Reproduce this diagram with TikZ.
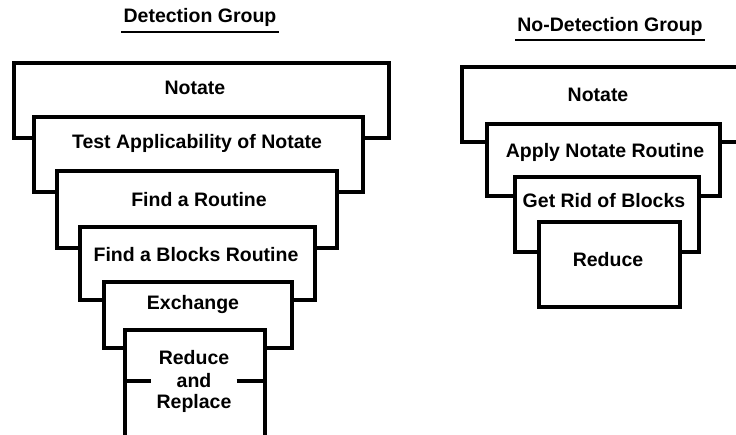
\documentclass[tikz,border=0pt]{standalone}
\usepackage{fontspec}
\setmainfont{Liberation Sans}
\usetikzlibrary{positioning}

\begin{document}
\begin{tikzpicture}[
    x=1pt, y=-1pt,
    stage/.style={rectangle, draw, line width=4pt, fill=white, anchor=north west, inner sep=0pt},
    lbl/.style={font=\fontsize{19.5}{22}\selectfont\bfseries, anchor=base, inner sep=0pt},
    underrule/.style={line width=2pt},
    stub/.style={line width=4pt}
]
    \useasboundingbox (0,0) rectangle (736,435);
    \clip (0,0) rectangle (736,435);

    % Detection group
    \node[lbl] (dtitle) at (200,23) {Detection Group};
    \draw[underrule] ([xshift=-2pt,yshift=-9pt]dtitle.base west) -- ([xshift=2pt,yshift=-9pt]dtitle.base east);

    \node[stage, minimum width=375pt, minimum height=75pt] (d1) at (12,61) {};
    \node[lbl] (dt1) at (195,95) {Notate};
    \node[stage, minimum width=329pt, minimum height=75pt] (d2) at (32,115) {};
    \node[lbl] (dt2) at (197,149) {Test Applicability of Notate};
    \node[stage, minimum width=280pt, minimum height=77pt] (d3) at (55,169) {};
    \node[lbl] (dt3) at (199,207) {Find a Routine};
    \node[stage, minimum width=235pt, minimum height=73pt] (d4) at (78,225) {};
    \node[lbl] (dt4) at (196,262) {Find a Blocks Routine};
    \node[stage, minimum width=188pt, minimum height=66pt] (d5) at (102,280) {};
    \node[lbl] (dt5) at (193,310) {Exchange};
    \node[stage, minimum width=140pt, minimum height=130pt] (d6) at (123,328) {};
    \node[lbl] (dt6) at (194,365) {Reduce};
    \node[lbl, minimum width=85pt] (dand) at (194,388) {and};
    \draw[stub] (d6.west |- dand.center) -- (dand.west);
    \draw[stub] (dand.east) -- (d6.east |- dand.center);
    \node[lbl] (dt7) at (194,408) {Replace};

    % No-detection group
    \node[lbl] (ntitle) at (610,32) {No-Detection Group};
    \draw[underrule] ([xshift=-2pt,yshift=-8pt]ntitle.base west) -- ([xshift=2pt,yshift=-8pt]ntitle.base east);

    \node[stage, minimum width=300pt, minimum height=75pt] (n1) at (460,65) {};
    \node[lbl] (nt1) at (598,102) {Notate};
    \node[stage, minimum width=233pt, minimum height=72pt] (n2) at (485,122) {};
    \node[lbl] (nt2) at (605,158) {Apply Notate Routine};
    \node[stage, minimum width=184pt, minimum height=75pt] (n3) at (513,175) {};
    \node[lbl] (nt3) at (604,208) {Get Rid of Blocks};
    \node[stage, minimum width=141pt, minimum height=85pt] (n4) at (537,220) {};
    \node[lbl] (nt4) at (608,267) {Reduce};
\end{tikzpicture}
\end{document}
